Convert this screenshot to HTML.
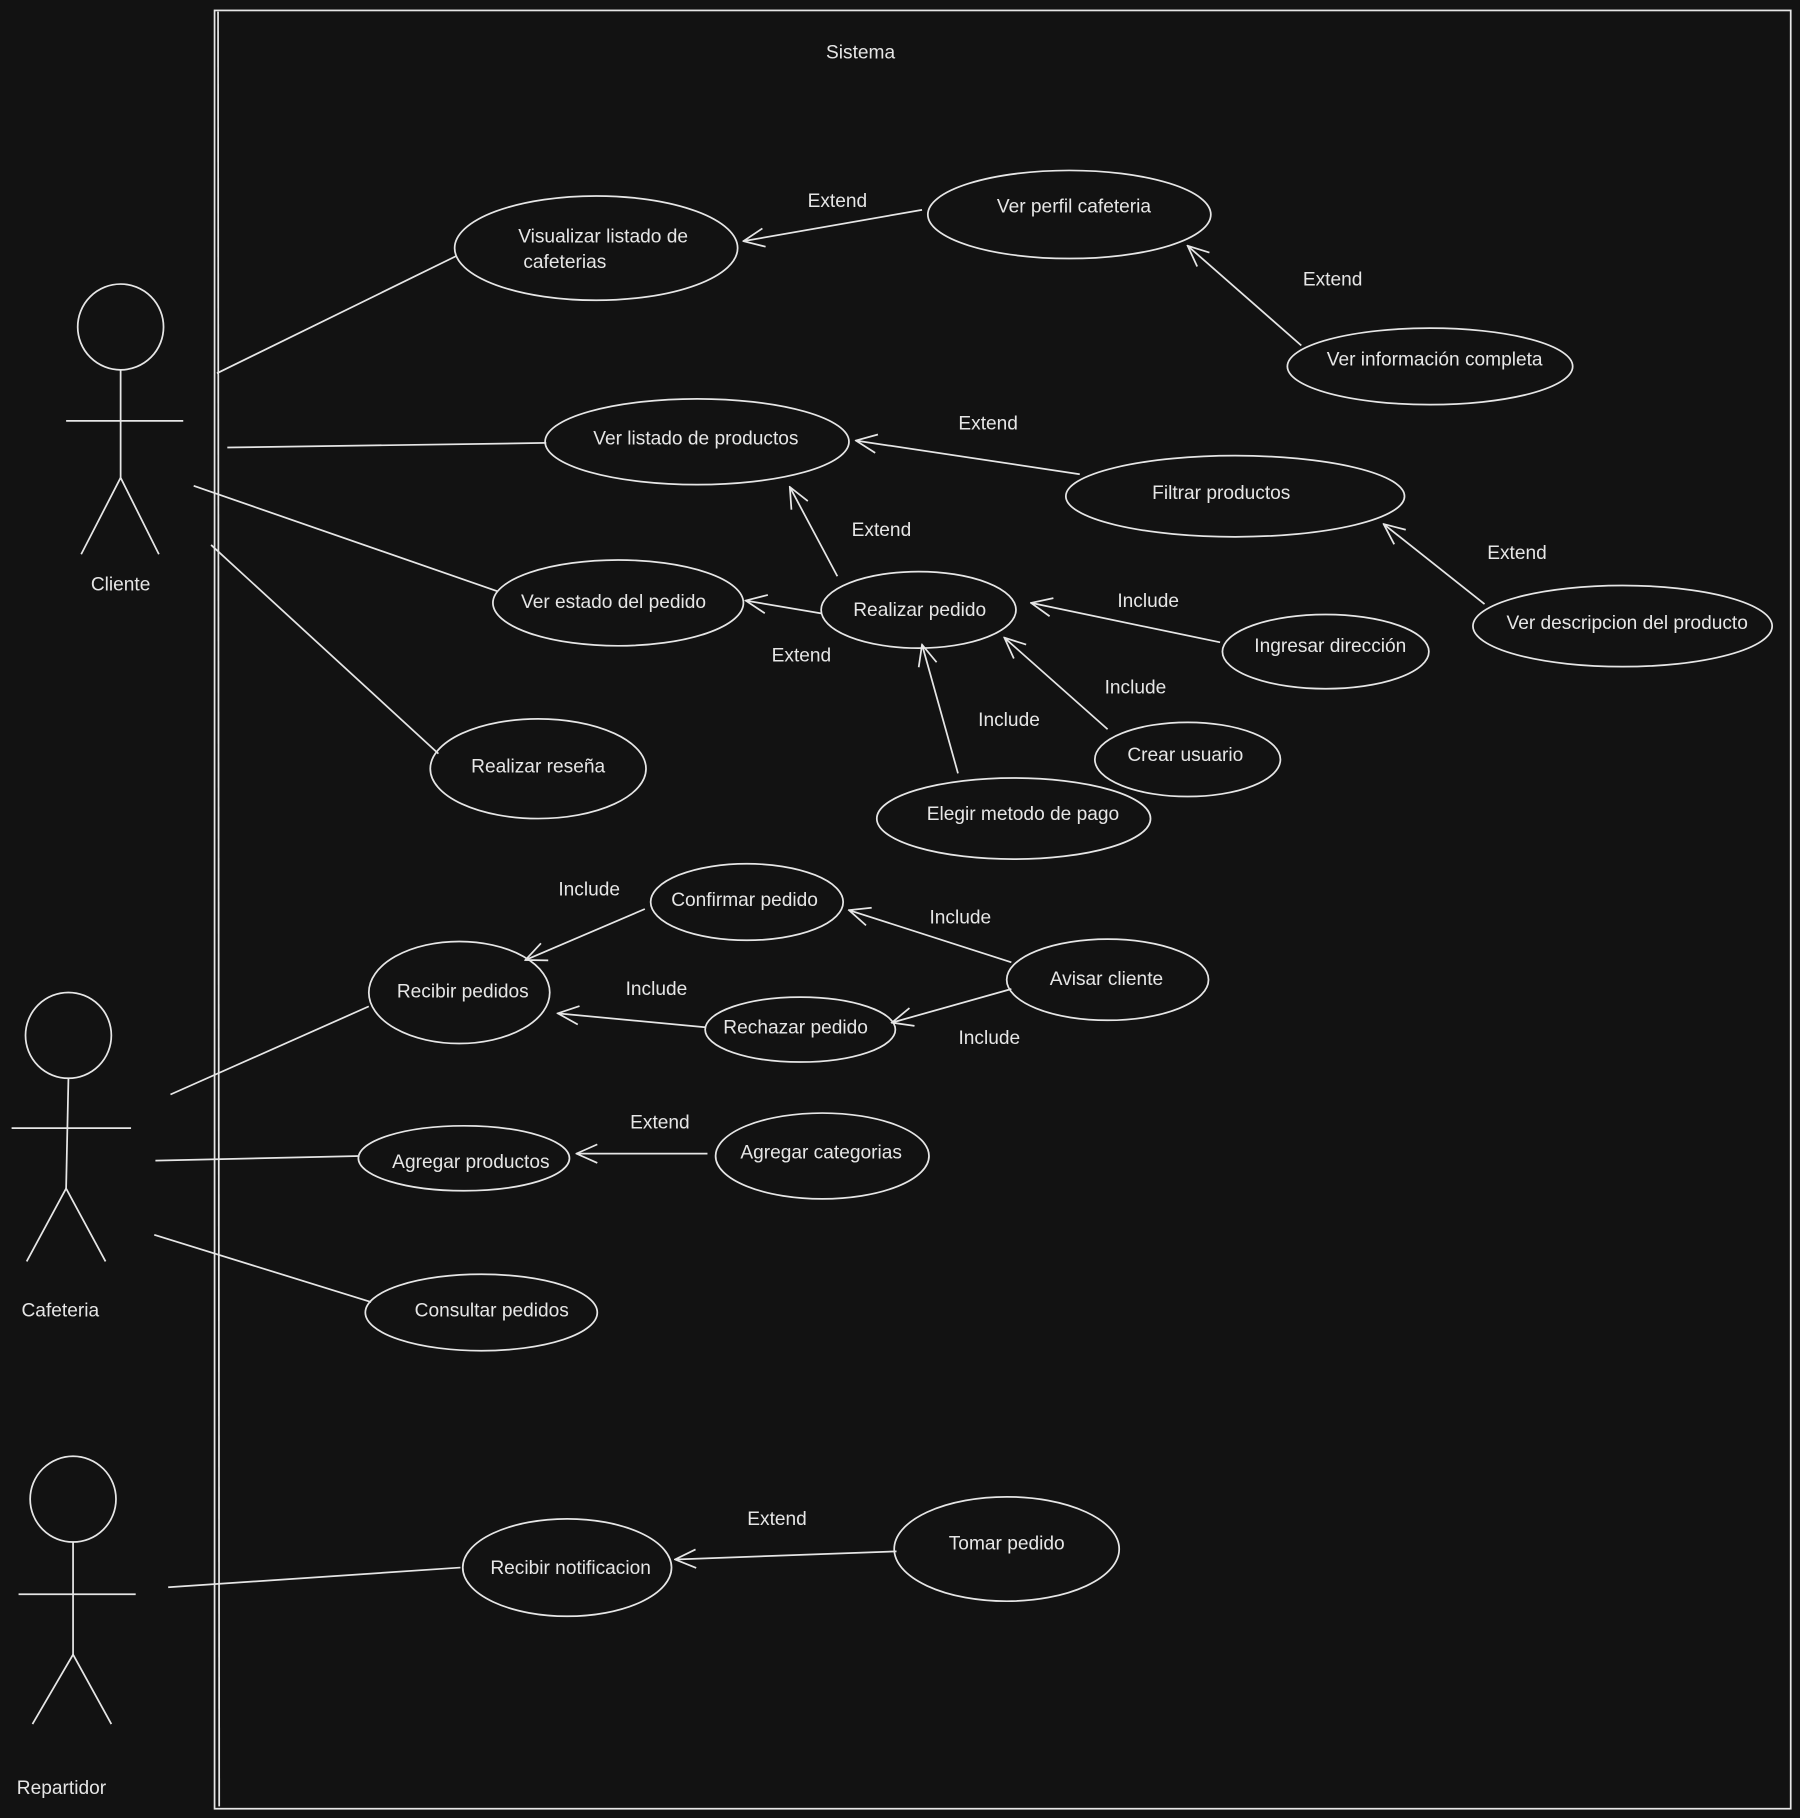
<!DOCTYPE html>
<html><head><meta charset="utf-8"><style>
html,body{margin:0;padding:0;background:#121212;}
svg{display:block;}
text{font-family:"Liberation Sans",sans-serif;font-size:16.5px;fill:#e6e6e6;text-anchor:middle;dominant-baseline:middle;}
</style></head><body>
<svg width="1800" height="1818" viewBox="0 0 1552 1568" preserveAspectRatio="none" xmlns="http://www.w3.org/2000/svg">
<defs>
<marker id="a" viewBox="0 0 20 20" refX="19" refY="10" markerWidth="20" markerHeight="20" markerUnits="userSpaceOnUse" orient="auto">
<path d="M1,2 L19,10 L1,18" fill="none" stroke="#e6e6e6" stroke-width="1.5"/>
</marker>
</defs>
<rect width="1552" height="1568" fill="#121212"/>
<g fill="none" stroke="#e6e6e6" stroke-width="1.5">
<rect x="185" y="9" width="1359" height="1551"/>
<line x1="188" y1="10" x2="189" y2="1558"/>
<circle cx="104" cy="282" r="37"/><line x1="104" y1="319" x2="104" y2="412"/><line x1="57" y1="363" x2="158" y2="363"/><polyline points="70,478 104,412 137,478"/>
<circle cx="59" cy="893" r="37"/><line x1="59" y1="930" x2="57" y2="1025"/><line x1="10" y1="973" x2="113" y2="973"/><polyline points="23,1088 57,1025 91,1088"/>
<circle cx="63" cy="1293" r="37"/><line x1="63" y1="1330" x2="63" y2="1427"/><line x1="16" y1="1375" x2="117" y2="1375"/><polyline points="28,1487 63,1427 96,1487"/>
<ellipse cx="514" cy="214" rx="122" ry="45"/>
<ellipse cx="922" cy="185" rx="122" ry="38"/>
<ellipse cx="1233" cy="316" rx="123" ry="33"/>
<ellipse cx="601" cy="381" rx="131" ry="37"/>
<ellipse cx="1065" cy="428" rx="146" ry="35"/>
<ellipse cx="533" cy="520" rx="108" ry="37"/>
<ellipse cx="792" cy="526" rx="84" ry="33"/>
<ellipse cx="1143" cy="562" rx="89" ry="32"/>
<ellipse cx="1399" cy="540" rx="129" ry="35"/>
<ellipse cx="1024" cy="655" rx="80" ry="32"/>
<ellipse cx="874" cy="706" rx="118" ry="35"/>
<ellipse cx="464" cy="663" rx="93" ry="43"/>
<ellipse cx="644" cy="778" rx="83" ry="33"/>
<ellipse cx="396" cy="856" rx="78" ry="44"/>
<ellipse cx="955" cy="845" rx="87" ry="35"/>
<ellipse cx="690" cy="888" rx="82" ry="28"/>
<ellipse cx="400" cy="999" rx="91" ry="28"/>
<ellipse cx="709" cy="997" rx="92" ry="37"/>
<ellipse cx="415" cy="1132" rx="100" ry="33"/>
<ellipse cx="489" cy="1352" rx="90" ry="42"/>
<ellipse cx="868" cy="1336" rx="97" ry="45"/>
<line x1="187" y1="322" x2="393" y2="221"/>
<line x1="196" y1="386" x2="471" y2="382"/>
<line x1="167" y1="419" x2="429" y2="510"/>
<line x1="182" y1="470" x2="378" y2="650"/>
<line x1="147" y1="944" x2="318" y2="868"/>
<line x1="134" y1="1001" x2="310" y2="997"/>
<line x1="133" y1="1065" x2="320" y2="1123"/>
<line x1="145" y1="1369" x2="397" y2="1352"/>
<g marker-end="url(#a)">
<line x1="795" y1="181" x2="641" y2="208"/>
<line x1="1122" y1="298" x2="1024" y2="212"/>
<line x1="931" y1="409" x2="738" y2="380"/>
<line x1="722" y1="497" x2="681" y2="420"/>
<line x1="708" y1="529" x2="643" y2="518"/>
<line x1="1052" y1="554" x2="889" y2="520"/>
<line x1="955" y1="629" x2="866" y2="550"/>
<line x1="826" y1="667" x2="795" y2="556"/>
<line x1="1280" y1="521" x2="1193" y2="452"/>
<line x1="556" y1="784" x2="453" y2="828"/>
<line x1="872" y1="830" x2="732" y2="785"/>
<line x1="872" y1="853" x2="769" y2="882"/>
<line x1="608" y1="886" x2="481" y2="874"/>
<line x1="610" y1="995" x2="497" y2="995"/>
<line x1="773" y1="1338" x2="582" y2="1345"/>
</g>
</g>
<text x="742" y="46">Sistema</text>
<text x="104" y="505">Cliente</text>
<text x="52" y="1131">Cafeteria</text>
<text x="53" y="1543">Repartidor</text>
<text x="520" y="205">Visualizar listado de</text>
<text x="487" y="227">cafeterias</text>
<text x="926" y="179">Ver perfil cafeteria</text>
<text x="1237" y="311">Ver información completa</text>
<text x="600" y="379">Ver listado de productos</text>
<text x="1053" y="426">Filtrar productos</text>
<text x="529" y="520">Ver estado del pedido</text>
<text x="793" y="527">Realizar pedido</text>
<text x="1147" y="558">Ingresar dirección</text>
<text x="1403" y="538">Ver descripcion del producto</text>
<text x="1022" y="652">Crear usuario</text>
<text x="882" y="703">Elegir metodo de pago</text>
<text x="464" y="662">Realizar reseña</text>
<text x="642" y="777">Confirmar pedido</text>
<text x="399" y="856">Recibir pedidos</text>
<text x="954" y="845">Avisar cliente</text>
<text x="686" y="887">Rechazar pedido</text>
<text x="406" y="1003">Agregar productos</text>
<text x="708" y="995">Agregar categorias</text>
<text x="424" y="1131">Consultar pedidos</text>
<text x="492" y="1353">Recibir notificacion</text>
<text x="868" y="1332">Tomar pedido</text>
<text x="722" y="174">Extend</text>
<text x="1149" y="242">Extend</text>
<text x="852" y="366">Extend</text>
<text x="760" y="458">Extend</text>
<text x="691" y="566">Extend</text>
<text x="990" y="519">Include</text>
<text x="979" y="594">Include</text>
<text x="870" y="622">Include</text>
<text x="1308" y="478">Extend</text>
<text x="508" y="768">Include</text>
<text x="828" y="792">Include</text>
<text x="853" y="896">Include</text>
<text x="566" y="854">Include</text>
<text x="569" y="969">Extend</text>
<text x="670" y="1311">Extend</text>
</svg>
</body></html>
